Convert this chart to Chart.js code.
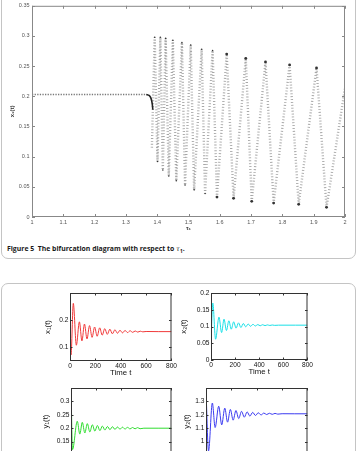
<!DOCTYPE html>
<html>
<head>
<meta charset="utf-8">
<script src="https://cdn.jsdelivr.net/npm/chart.js@4.4.1/dist/chart.umd.min.js"></script>
<style>
  html, body { margin: 0; padding: 0; background: #fff; }
  body { width: 358px; height: 451px; overflow: hidden; position: relative; }
  canvas { position: absolute; }
  .box { position: absolute; left: 1px; width: 353px; border: 1px solid #c4c4c4; border-radius: 7px; }
  #cap { position: absolute; left: 7px; top: 244px; font: bold 7px "Open Sans", "Noto Sans", sans-serif; color: #1a1a1a; white-space: nowrap; }
  #cap i { font-family: "DejaVu Serif", serif; font-weight: normal; color: #1a1a1a; }
</style>
</head>
<body>
<div class="box" style="top:-12px;height:269px"></div>
<div class="box" style="top:283px;height:200px"></div>
<canvas id="bif" width="358" height="240" style="left:0;top:0"></canvas>
<div id="cap">Figure 5&nbsp; The bifurcation diagram with respect to <i>τ</i><sub style="font-size:70%">1</sub>.</div>
<canvas id="c1" width="148" height="96" style="left:30px;top:285px"></canvas>
<canvas id="c2" width="143" height="95" style="left:171px;top:285px"></canvas>
<canvas id="c3" width="147" height="95" style="left:31px;top:380px"></canvas>
<canvas id="c4" width="148" height="95" style="left:166px;top:380px"></canvas>
<script>
// bifurcation diagram: steady branch, its bend, and the oscillation band (tops/bottoms)
const tauTicks = [1, 1.1, 1.2, 1.3, 1.4, 1.5, 1.6, 1.7, 1.8, 1.9, 2];
const bifTicks = [0, 0.05, 0.1, 0.15, 0.2, 0.25, 0.3, 0.35];
const tauFlat = [1, 1.365];
const xFlat = [0.203, 0.203];
const tauBend = [1.365, 1.374, 1.38, 1.384, 1.386];
const xBend = [0.203, 0.2015, 0.197, 0.188, 0.178];
const tauZig = [1.383, 1.392, 1.401, 1.410, 1.418, 1.427, 1.437, 1.450, 1.461, 1.479, 1.489, 1.507, 1.518, 1.542,
  1.553, 1.577, 1.591, 1.622, 1.644, 1.683, 1.702, 1.746, 1.772, 1.823, 1.852, 1.909, 1.941, 2.0];
const xZig = [0.115, 0.298, 0.092, 0.298, 0.078, 0.296, 0.068, 0.293, 0.060, 0.289, 0.053, 0.285, 0.045, 0.278,
  0.039, 0.276, 0.033, 0.270, 0.031, 0.263, 0.026, 0.257, 0.023, 0.252, 0.021, 0.247, 0.016, 0.214];

// time series (read at peaks / troughs)
const timeTicks = [0, 200, 400, 600, 800];
const tX1 = [0, 8, 26, 50, 74, 94, 114, 134, 154, 174, 194, 214, 234, 254, 274, 294, 314, 334, 354, 374, 394, 414,
  434, 454, 474, 494, 514, 534, 554, 574, 600, 700, 800];
const x1 = [0.115, 0.072, 0.262, 0.108, 0.194, 0.124, 0.186, 0.131, 0.180, 0.137, 0.175, 0.141, 0.172, 0.145, 0.169,
  0.148, 0.167, 0.150, 0.165, 0.152, 0.163, 0.1535, 0.1622, 0.1545, 0.1612, 0.1553, 0.1604, 0.1562, 0.1596, 0.1572,
  0.1585, 0.158, 0.158];
const tX2 = [0, 15, 38, 66, 88, 108, 128, 148, 168, 188, 208, 228, 248, 268, 288, 308, 328, 348, 368, 388, 408, 428,
  448, 468, 488, 508, 528, 560, 700, 800];
const x2 = [0.05, 0.17, 0.062, 0.128, 0.082, 0.122, 0.088, 0.117, 0.092, 0.114, 0.095, 0.111, 0.097, 0.109, 0.099,
  0.1075, 0.1005, 0.1065, 0.1015, 0.1058, 0.1022, 0.1053, 0.1027, 0.1048, 0.1031, 0.1045, 0.1034, 0.104, 0.104, 0.104];
const tY1 = [0, 12, 50, 70, 90, 110, 130, 150, 170, 190, 210, 230, 250, 270, 290, 310, 330, 350, 370, 390, 410, 430,
  450, 470, 490, 510, 530, 550, 580, 700, 800];
const y1 = [0.36, 0.12, 0.226, 0.178, 0.222, 0.182, 0.217, 0.186, 0.213, 0.189, 0.21, 0.191, 0.208, 0.193, 0.2065,
  0.1945, 0.2055, 0.1955, 0.2045, 0.1963, 0.2038, 0.1968, 0.2032, 0.1973, 0.2027, 0.1977, 0.2022, 0.1981, 0.2, 0.2, 0.2];
const tY2 = [0, 20, 50, 72, 100, 124, 148, 170, 192, 214, 236, 258, 280, 302, 324, 346, 368, 390, 412, 434, 456, 478,
  500, 522, 544, 566, 600, 700, 800];
const y2 = [1.385, 0.93, 1.288, 1.105, 1.264, 1.125, 1.25, 1.145, 1.24, 1.16, 1.232, 1.172, 1.226, 1.182, 1.222, 1.19,
  1.218, 1.195, 1.215, 1.199, 1.213, 1.202, 1.2115, 1.2035, 1.2105, 1.205, 1.208, 1.2075, 1.2075];

const pts = (xs, ys) => xs.map((x, i) => ({ x: x, y: ys[i] }));
const fixTicks = arr => s => { s.ticks = arr.map(v => ({ value: v })); };

// box + inward ticks on all four sides, matlab style
const frame = {
  id: 'frame',
  afterDatasetsDraw(chart, args, opts) {
    const { ctx, chartArea: a, scales } = chart;
    const len = opts.len;
    ctx.save();
    ctx.strokeStyle = opts.color;
    ctx.lineWidth = 1;
    ctx.strokeRect(a.left + 0.5, a.top + 0.5, a.right - a.left - 1, a.bottom - a.top - 1);
    ctx.beginPath();
    scales.x.ticks.forEach(t => {
      const p = Math.round(scales.x.getPixelForValue(t.value)) + 0.5;
      ctx.moveTo(p, a.bottom); ctx.lineTo(p, a.bottom - len);
      ctx.moveTo(p, a.top); ctx.lineTo(p, a.top + len);
    });
    scales.y.ticks.forEach(t => {
      const p = Math.round(scales.y.getPixelForValue(t.value)) + 0.5;
      ctx.moveTo(a.left, p); ctx.lineTo(a.left + len, p);
      ctx.moveTo(a.right, p); ctx.lineTo(a.right - len, p);
    });
    ctx.stroke();
    ctx.restore();
  }
};

Chart.defaults.font.family = '"Liberation Sans", Arial, sans-serif';
const noGrid = { display: false, drawTicks: false };

new Chart(document.getElementById('bif'), {
  type: 'line',
  data: {
    datasets: [
      { data: pts(tauFlat, xFlat), borderColor: '#7a7a7a', borderWidth: 1.6, borderDash: [1.3, 1.3], pointRadius: 0 },
      { data: pts(tauBend, xBend), borderColor: '#222', borderWidth: 1.6, pointRadius: 0, tension: 0.3 },
      {
        data: pts(tauZig, xZig), borderColor: 'rgba(130,130,130,0.7)', borderWidth: 2.4, borderDash: [0.9, 2],
        pointRadius: c => (c.dataIndex === 0 || c.dataIndex === tauZig.length - 1 ? 0 : (c.dataIndex < 16 ? 0.8 : 1.4)),
        pointBackgroundColor: '#333', pointBorderWidth: 0
      }
    ]
  },
  options: {
    responsive: false, animation: false, events: [],
    layout: { padding: { top: 4, right: 13, left: 0, bottom: 0 } },
    plugins: { legend: { display: false }, tooltip: { enabled: false }, frame: { color: '#888', len: 3 } },
    scales: {
      x: {
        type: 'linear', min: 1, max: 2,
        afterBuildTicks: fixTicks(tauTicks), afterFit: s => { s.height = 23; },
        grid: noGrid, border: { display: false },
        ticks: { padding: 2, maxRotation: 0, autoSkip: false, color: '#555', font: { size: 5.5 }, callback: v => String(v) },
        title: { display: true, text: 'τ₁', color: '#333', font: { size: 6, weight: 'bold' }, padding: { top: 0, bottom: 8.1 } }
      },
      y: {
        min: 0, max: 0.35,
        afterBuildTicks: fixTicks(bifTicks), afterFit: s => { s.width = 32; },
        grid: noGrid, border: { display: false },
        ticks: { padding: 2.5, autoSkip: false, color: '#555', font: { size: 5.5 }, callback: v => String(v) },
        title: { display: true, text: 'x₁(t)', color: '#333', font: { size: 6, weight: 'bold' }, padding: { top: 8.5, bottom: 0 } }
      }
    }
  },
  plugins: [frame]
});

function subplot(id, ts, vs, color, yMin, yMax, yTicks, yTitle, titleGap) {
  return new Chart(document.getElementById(id), {
    type: 'line',
    data: { datasets: [{ data: pts(ts, vs), borderColor: color, borderWidth: 1, pointRadius: 0, cubicInterpolationMode: 'monotone' }] },
    options: {
      responsive: false, animation: false, events: [],
      layout: { padding: { top: 8, right: 6, left: 0, bottom: 0 } },
      plugins: { legend: { display: false }, tooltip: { enabled: false }, frame: { color: '#333', len: 2.5 } },
      scales: {
        x: {
          type: 'linear', min: 0, max: 800,
          afterBuildTicks: fixTicks(timeTicks), afterFit: s => { s.height = 20; },
          grid: noGrid, border: { display: false },
          ticks: { padding: 1, maxRotation: 0, autoSkip: false, color: '#111', font: { size: 6.6 }, callback: v => String(v) },
          title: { display: true, text: 'Time t', color: '#111', font: { size: 7.8 }, padding: { top: 0, bottom: 3.8 } }
        },
        y: {
          min: yMin, max: yMax,
          afterBuildTicks: fixTicks(yTicks), afterFit: s => { s.width = 40; },
          grid: noGrid, border: { display: false },
          ticks: { padding: 1.5, autoSkip: false, color: '#111', font: { size: 6.6 }, callback: v => String(v) },
          title: { display: true, text: yTitle, color: '#111', font: { size: 7.8 }, padding: { top: titleGap, bottom: 0 } }
        }
      }
    },
    plugins: [frame]
  });
}

subplot('c1', tX1, x1, '#f03a3a', 0.05, 0.3, [0.1, 0.2], 'x₁(t)', 13.5);
subplot('c2', tX2, x2, '#19dfe6', 0, 0.2, [0, 0.05, 0.1, 0.15, 0.2], 'x₂(t)', 8.5);
subplot('c3', tY1, y1, '#2fdc2f', 0.1, 0.35, [0.1, 0.15, 0.2, 0.25, 0.3], 'y₁(t)', 10.5);
subplot('c4', tY2, y2, '#3b3bf0', 0.9, 1.4, [0.9, 1, 1.1, 1.2, 1.3], 'y₂(t)', 16.5);

// fit the caption to the width it has in the figure
const cap = document.getElementById('cap');
const w = cap.getBoundingClientRect().width;
cap.style.fontSize = (7 * 178 / w) + 'px';
</script>
</body>
</html>
